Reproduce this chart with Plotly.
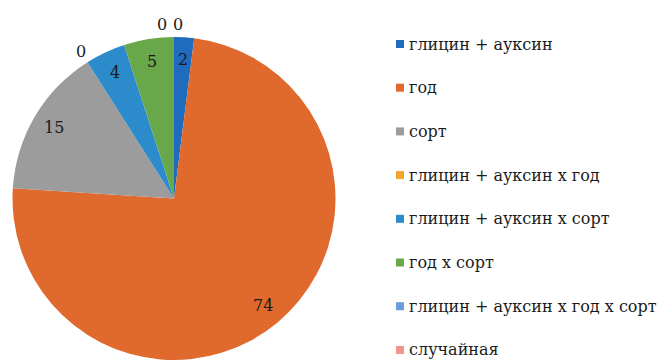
import math
import plotly.graph_objects as go

# Доля влияния факторов, %
factors = [
    "глицин + ауксин",
    "год",
    "сорт",
    "глицин + ауксин х год",
    "глицин + ауксин х сорт",
    "год х сорт",
    "глицин + ауксин х год х сорт",
    "случайная",
]
shares = [2, 74, 15, 0, 4, 5, 0, 0]
colors = ["#1F6BBE", "#E0692D", "#9C9C9C", "#EFA62B",
          "#2C8BCB", "#69A84A", "#6C9CDA", "#F2958C"]

W, H = 659, 364
CX, CY, R = 174.0, 198.5, 161.5  # pie centre and radius, px
FONT = "DejaVu Serif, Liberation Serif, serif"

fig = go.Figure(go.Pie(
    labels=factors,
    values=shares,
    marker=dict(colors=colors, line=dict(width=0)),
    sort=False,
    direction="clockwise",
    rotation=0,
    textinfo="none",
    hoverinfo="label+value",
    showlegend=False,
    domain=dict(x=[(CX - R) / W, (CX + R) / W],
                y=[(H - CY - R) / H, (H - CY + R) / H]),
))


def px_to_paper(x, y):
    return x / W, 1 - y / H


# value labels placed along each slice's bisector
annotations = []
total = sum(shares)
cum = 0.0
zero_run = 0
for v in shares:
    mid = (cum + v / 2) / total * 2 * math.pi
    cum += v
    if v > 0:
        rr = 0.86 * R
        shift = 0
        zero_run = 0
    else:
        rr = 1.08 * R
        # spread neighbouring zero labels apart
        shift = 0
        if cum >= total:
            shift = -12 + 16 * zero_run
            zero_run += 1
    x = CX + rr * math.sin(mid)
    y = CY - rr * math.cos(mid)
    px, py = px_to_paper(x, y)
    annotations.append(dict(
        x=px, y=py, xref="paper", yref="paper", text=str(v),
        showarrow=False, xanchor="center", yanchor="middle", xshift=shift,
    ))

# legend built as marker squares with labels
shapes = []
LX, LY0, LDY, MS = 396, 44, 43.7, 8
for i, (name, col) in enumerate(zip(factors, colors)):
    yc = LY0 + i * LDY
    x0, y1 = px_to_paper(LX, yc - MS / 2)
    x1, y0 = px_to_paper(LX + MS, yc + MS / 2)
    shapes.append(dict(type="rect", xref="paper", yref="paper",
                       x0=x0, x1=x1, y0=y0, y1=y1,
                       fillcolor=col, line=dict(width=0)))
    tx, ty = px_to_paper(LX + MS + 3, yc)
    annotations.append(dict(
        x=tx, y=ty, xref="paper", yref="paper", text=name,
        showarrow=False, xanchor="left", yanchor="middle",
    ))

fig.update_layout(
    width=W, height=H,
    margin=dict(l=0, r=0, t=0, b=0),
    paper_bgcolor="white",
    plot_bgcolor="white",
    font=dict(family=FONT, size=16, color="#1a1a1a"),
    annotations=annotations,
    shapes=shapes,
)

fig.write_html("out.html")
